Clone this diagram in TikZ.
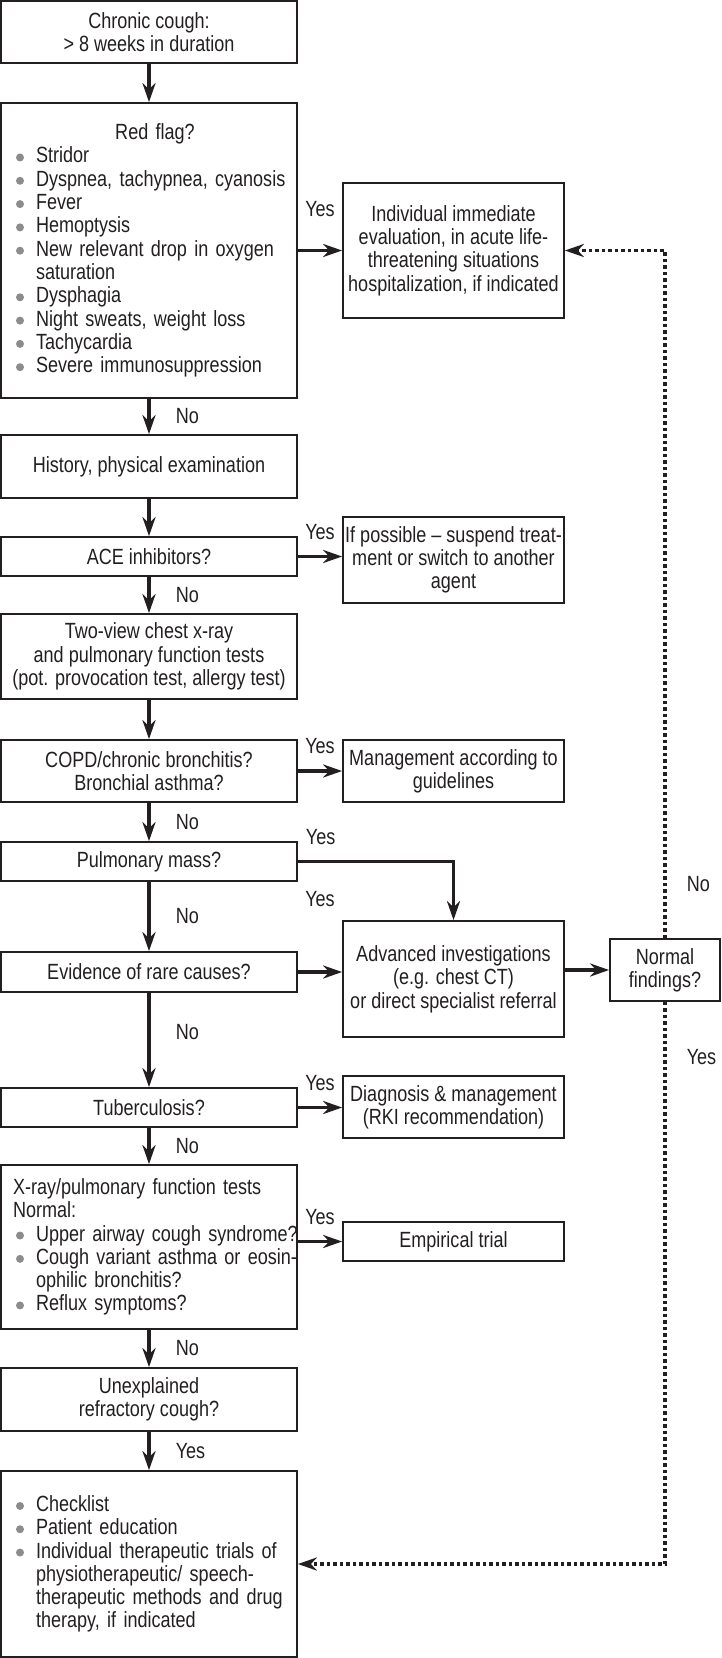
\documentclass[tikz,border=0pt]{standalone}
\usepackage{fontspec}
\setmainfont{Liberation Sans}[FakeStretch=0.82]
\usepackage{tikz}
\usetikzlibrary{arrows.meta}

\definecolor{inkblack}{HTML}{231F20}
\definecolor{bulgray}{HTML}{8C8C8C}
\newcommand\flowfont{\fontsize{22}{23.3}\selectfont}
\newcommand\bulitem[1]{\makebox[29pt][l]{\hspace{9pt}\tikz[baseline=0pt]\fill[bulgray] (4pt,5.5pt) circle[radius=4pt];}\mbox{#1}}
\newcommand\contline[1]{\hspace*{29pt}\mbox{#1}}

\begin{document}
\begin{tikzpicture}[x=1pt, y=-1pt, line join=miter,
  box/.style={draw=inkblack, line width=1.7pt, inner sep=0pt, align=center, font=\flowfont, text=inkblack},
  leftbox/.style={box, minimum width=296pt},
  rightbox/.style={box, minimum width=221pt},
  listbox/.style={leftbox, align=left, text width=284pt},
  arr/.style={draw=inkblack, line width=3.6pt, -{Stealth[length=19pt, width=13pt, inset=6pt]}},
  dotarr/.style={arr, dash pattern=on 3.5pt off 3pt},
  lbl/.style={font=\flowfont, text=inkblack, inner sep=0pt},
  yeslbl/.style={lbl, midway, above=15pt},
  nolbl/.style={lbl, midway, right=25pt}]
  \useasboundingbox (0,0) rectangle (721,1658);

  % Main column
  \node[leftbox, minimum height=62pt] (chronic) at (149,32) {Chronic cough:\\> 8 weeks in duration};
  \node[listbox, minimum height=295pt] (redflag) at (149,250.5) {%
    \makebox[\linewidth]{\hspace{12pt}Red flag?}\\
    \bulitem{Stridor}\\
    \bulitem{Dyspnea, tachypnea, cyanosis}\\
    \bulitem{Fever}\\
    \bulitem{Hemoptysis}\\
    \bulitem{New relevant drop in oxygen}\\
    \contline{saturation}\\
    \bulitem{Dysphagia}\\
    \bulitem{Night sweats, weight loss}\\
    \bulitem{Tachycardia}\\
    \bulitem{Severe immunosuppression}};
  \node[leftbox, minimum height=63pt] (history) at (149,466.5) {History, physical examination};
  \node[leftbox, minimum height=39pt] (ace) at (149,556.5) {ACE inhibitors?};
  \node[leftbox, minimum height=85pt] (twoview) at (149,656.5) {Two-view chest x-ray\\and pulmonary function tests\\(pot. provocation test, allergy test)};
  \node[leftbox, minimum height=62pt] (copd) at (149,771) {COPD/chronic bronchitis?\\Bronchial asthma?};
  \node[leftbox, minimum height=39pt] (pulmass) at (149,861.5) {Pulmonary mass?};
  \node[leftbox, minimum height=40pt] (rare) at (149,972) {Evidence of rare causes?};
  \node[leftbox, minimum height=39pt] (tb) at (149,1107.5) {Tuberculosis?};
  \node[listbox, minimum height=164pt] (xray) at (149,1247) {%
    \hspace*{6pt}\mbox{X-ray/pulmonary function tests}\\
    \hspace*{6pt}Normal:\\
    \bulitem{Upper airway cough syndrome?}\\
    \bulitem{Cough variant asthma or eosin-}\\
    \contline{ophilic bronchitis?}\\
    \bulitem{Reflux symptoms?}};
  \node[leftbox, minimum height=63pt] (unexpl) at (149,1399.5) {Unexplained\\refractory cough?};
  \node[listbox, minimum height=186pt] (final) at (149,1564) {%
    \bulitem{Checklist}\\
    \bulitem{Patient education}\\
    \bulitem{Individual therapeutic trials of}\\
    \contline{physiotherapeutic/ speech-}\\
    \contline{therapeutic methods and drug}\\
    \contline{therapy, if indicated}};

  % Side column
  \node[rightbox, minimum height=135pt] (immediate) at (453.5,250.5) {Individual immediate\\evaluation, in acute life-\\threatening situations\\hospitalization, if indicated};
  \node[rightbox, minimum height=86pt] (suspend) at (453.5,560) {If possible – suspend treat-\\ment or switch to another\\agent};
  \node[rightbox, minimum height=62pt] (guideline) at (453.5,771) {Management according to\\guidelines};
  \node[rightbox, minimum height=116pt] (advanced) at (453.5,979) {Advanced investigations\\(e.g. chest CT)\\or direct specialist referral};
  \node[rightbox, minimum height=62pt] (diagnosis) at (453.5,1107) {Diagnosis \& management\\(RKI recommendation)};
  \node[rightbox, minimum height=39pt] (empirical) at (453.5,1241.5) {Empirical trial};
  \node[box, minimum width=110pt, minimum height=62pt] (normal) at (665,970) {Normal\\findings?};

  % Down arrows
  \draw[arr] (chronic.south) -- (redflag.north);
  \draw[arr] (redflag.south) -- node[nolbl] {No} (history.north);
  \draw[arr] (history.south) -- (ace.north);
  \draw[arr] (ace.south) -- node[nolbl] {No} (twoview.north);
  \draw[arr] (twoview.south) -- (copd.north);
  \draw[arr] (copd.south) -- node[nolbl] {No} (pulmass.north);
  \draw[arr] (pulmass.south) -- node[nolbl] {No} (rare.north);
  \draw[arr] (rare.south) -- node[nolbl, pos=0.42] {No} (tb.north);
  \draw[arr] (tb.south) -- node[nolbl] {No} (xray.north);
  \draw[arr] (xray.south) -- node[nolbl] {No} (unexpl.north);
  \draw[arr] (unexpl.south) -- node[nolbl] {Yes} (final.north);

  % Yes branches
  \draw[arr] (redflag.east) -- node[yeslbl, above=17pt] {Yes} (redflag.east -| immediate.west);
  \draw[arr] (ace.east) -- node[yeslbl] {Yes} (ace.east -| suspend.west);
  \draw[arr] (copd.east) -- node[yeslbl] {Yes} (guideline.west);
  \draw[arr] (pulmass.east) -| node[yeslbl, pos=0.073] {Yes} (advanced.north);
  \draw[arr] (rare.east) -- node[yeslbl, above=48pt] {Yes} (rare.east -| advanced.west);
  \draw[arr] (advanced.east |- normal.west) -- (normal.west);
  \draw[arr] (tb.east) -- node[yeslbl] {Yes} (tb.east -| diagnosis.west);
  \draw[arr] (xray.east |- empirical.west) -- node[yeslbl] {Yes} (empirical.west);

  % Feedback from normal findings
  \draw[dotarr] (normal.north) |- node[lbl, pos=0.039, right=20pt] {No} (immediate.east);
  \draw[dotarr] (normal.south) |- node[lbl, pos=0.049, right=20pt] {Yes} (final.east);
\end{tikzpicture}
\end{document}
